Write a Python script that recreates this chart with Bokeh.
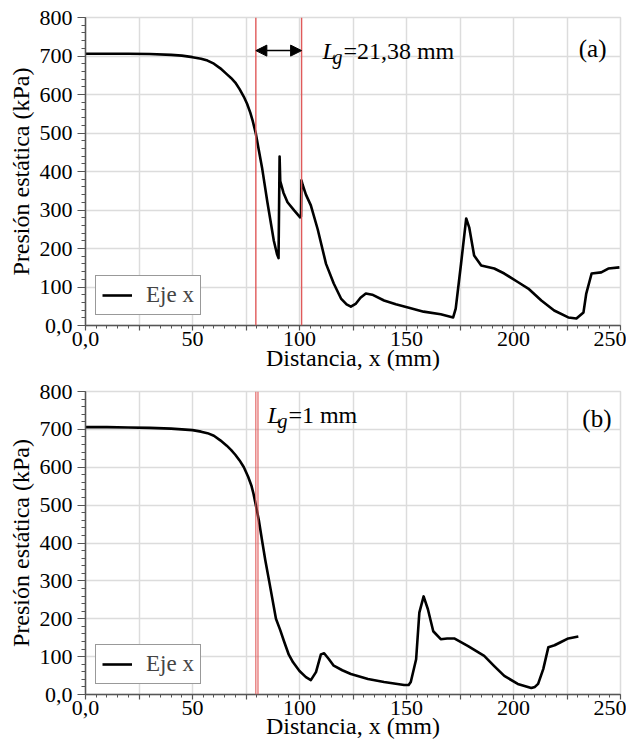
from bokeh.plotting import figure
from bokeh.layouts import column
from bokeh.models import Range1d, FixedTicker, Span, Arrow, NormalHead, Label
from bokeh.embed import file_html
from bokeh.resources import INLINE

FONT = "Liberation Serif"

# ---- data ----
xa = [0, 10, 20, 30, 40, 45, 50, 54, 57, 60, 63, 66, 68, 70, 72, 74, 75.5, 77, 78.2, 79.6, 81,
      82.5, 85, 88, 89.5, 90.2, 90.7, 91.0, 92.5, 94.4, 97.5, 100.3, 100.7, 100.9, 101.5, 103,
      105.3, 108.5, 112.4, 116, 119.4, 122, 124, 126.4, 128.5, 131, 134, 139.5, 145, 150.7, 158,
      166, 171.8, 173, 175.5, 177.9, 179.3, 181.6, 184.9, 191, 195.7, 202, 206.9, 213, 219,
      225.6, 229.4, 232.7, 234, 236.5, 241, 244.3, 249.5]
ya = [706, 706, 706, 705, 703, 701, 697, 693, 688, 680, 668, 653, 643, 631, 614, 594, 576, 553,
      530, 498, 455, 410, 320, 220, 185, 175, 439, 375, 345, 320, 299, 281, 284, 377, 365, 340,
      312, 250, 160, 109, 70, 55, 49, 57, 72, 83, 80, 65, 55, 47, 36,
      29, 21, 44, 161, 278, 255, 182, 156, 148, 135, 113, 96, 65, 39,
      21, 18, 34, 83, 135, 138, 148, 151]

xb = [0, 10, 20, 30, 40, 45, 50, 54, 57, 60, 63, 66, 68, 70, 72, 74, 76, 77.5, 78.5, 79.6, 81,
      82.7, 84, 85.8, 89, 91, 92.8, 95, 97, 100, 103, 105.3, 107.7, 110, 111.5, 113.5, 116, 120,
      124, 132, 139.5, 148.9, 151, 152, 154.5, 156, 158, 160, 162.5, 166, 169, 172.3, 178.8,
      186.3, 191, 195.7, 202, 208.3, 210, 211.5, 213.9, 216.3, 219.2, 222, 225.6, 230.3]
yb = [706, 706, 705, 704, 702, 700, 698, 694, 690, 683, 671, 657, 646, 633, 618, 600, 575, 552,
      530, 500, 460, 400, 355, 300, 200, 170, 140, 105, 85, 62, 46, 38, 59, 106, 109, 95, 76, 64,
      54, 41, 33, 25, 25, 33, 93, 216, 259, 225, 167, 146, 148, 148, 128,
      102, 75, 49, 28, 17, 20, 28, 67, 125, 130, 138, 148, 153]

lg_a = [79.6, 100.98]      # red lines, panel (a)
lg_b = [79.6, 80.6]        # red lines, panel (b)

x_ticks = [0, 25, 50, 75, 100, 125, 150, 175, 200, 225, 250]
x_minor = list(range(0, 251, 5))
x_tick_labels = {0: "0,0", 25: "", 50: "50", 75: "", 100: "100", 125: "", 150: "150",
                 175: "", 200: "200", 225: "", 250: "250"}
y_ticks = [0, 100, 200, 300, 400, 500, 600, 700, 800]
y_minor = list(range(0, 801, 20))
y_tick_labels = {0: "0,0"}

series_name = "Eje x"
x_title = "Distancia, x (mm)"
y_title = "Presión estática (kPa)"


def make_fig(x, y, height, top, bottom, xlab_standoff, lines, line_w, tag, tag_dx, lg_text,
             lg_x, lg_y, tag_y, arrow_y=None):
    p = figure(width=626, height=height, output_backend="svg", toolbar_location=None,
               x_range=Range1d(0, 250), y_range=Range1d(0, 800),
               min_border_left=85, min_border_right=6, min_border_top=top,
               min_border_bottom=bottom)
    p.background_fill_color = "white"
    p.outline_line_color = "#dcdcdc"
    p.outline_line_width = 1.5

    p.xaxis.ticker = FixedTicker(ticks=x_ticks, minor_ticks=x_minor)
    p.yaxis.ticker = FixedTicker(ticks=y_ticks, minor_ticks=y_minor)
    p.xaxis.major_label_overrides = x_tick_labels
    p.yaxis.major_label_overrides = y_tick_labels

    p.axis.axis_line_color = "#555555"
    p.axis.axis_line_width = 1.5
    p.axis.major_tick_line_color = "#555555"
    p.axis.minor_tick_line_color = "#555555"
    p.axis.major_tick_line_width = 1.2
    p.axis.minor_tick_line_width = 1
    p.axis.major_tick_in = 0
    p.axis.minor_tick_in = 0
    p.axis.major_label_text_color = "black"
    p.axis.axis_label_text_color = "black"
    p.axis.axis_label_text_font_style = "normal"
    p.axis.major_label_text_font_size = "22px"
    p.axis.axis_label_text_font_size = "24px"
    p.axis.major_label_text_font = FONT
    p.axis.axis_label_text_font = FONT

    p.xaxis.major_tick_out = 5
    p.xaxis.minor_tick_out = 3
    p.xaxis.major_label_standoff = 1
    p.xaxis.axis_label = x_title
    p.xaxis.axis_label_standoff = xlab_standoff

    p.yaxis.major_tick_out = 8
    p.yaxis.minor_tick_out = 4
    p.yaxis.major_label_standoff = 5
    p.yaxis.axis_label = y_title
    p.yaxis.axis_label_standoff = 3

    p.xgrid.grid_line_color = "#dcdcdc"
    p.ygrid.grid_line_color = "#dcdcdc"
    p.xgrid.grid_line_width = 1.5
    p.ygrid.grid_line_width = 1.5

    for loc in lines:
        p.add_layout(Span(location=loc, dimension="height", line_color="#e05a5a",
                          line_width=line_w))

    p.line(x, y, line_color="black", line_width=2.6, line_join="round",
           legend_label=series_name)

    if arrow_y is not None:
        p.add_layout(Arrow(start=NormalHead(size=11, fill_color="black", line_color="black"),
                           end=NormalHead(size=11, fill_color="black", line_color="black"),
                           x_start=lines[0], x_end=lines[1], y_start=arrow_y, y_end=arrow_y,
                           line_color="black", line_width=1.5))

    p.add_layout(Label(x=lg_x, y=lg_y, text="L", text_font=FONT, text_font_style="italic",
                       text_font_size="24px", text_baseline="alphabetic", text_color="black"))
    p.add_layout(Label(x=lg_x, y=lg_y, x_offset=10, y_offset=-6, text="g", text_font=FONT,
                       text_font_style="italic", text_font_size="20px",
                       text_baseline="alphabetic", text_color="black"))
    p.add_layout(Label(x=lg_x, y=lg_y, x_offset=21, text=lg_text, text_font=FONT,
                       text_font_size="24px", text_baseline="alphabetic", text_color="black"))
    p.add_layout(Label(x=250, y=tag_y, x_offset=tag_dx, text=tag, text_font=FONT,
                       text_font_size="25px", text_align="right", text_baseline="alphabetic",
                       text_color="black"))

    p.legend.location = "bottom_left"
    p.legend.margin = 10
    p.legend.border_line_color = "#333333"
    p.legend.border_line_width = 1
    p.legend.background_fill_alpha = 1
    p.legend.label_text_font = FONT
    p.legend.label_text_font_style = "normal"
    p.legend.label_text_font_size = "23px"
    p.legend.glyph_width = 30
    p.legend.label_standoff = 14
    p.legend.padding = 6
    p.legend.spacing = 0
    return p


p1 = make_fig(xa, ya, 378, 17, 53, -4, lg_a, 1.4, "(a)", -14, "=21,38 mm", 110.7, 714, 719,
              arrow_y=714)
p2 = make_fig(xb, yb, 368, 13, 52, -5, lg_b, 1.1, "(b)", -9, "=1 mm", 85.0, 737, 729)

layout = column(p1, p2, spacing=0)
open("out.html", "w").write(file_html(layout, INLINE))
